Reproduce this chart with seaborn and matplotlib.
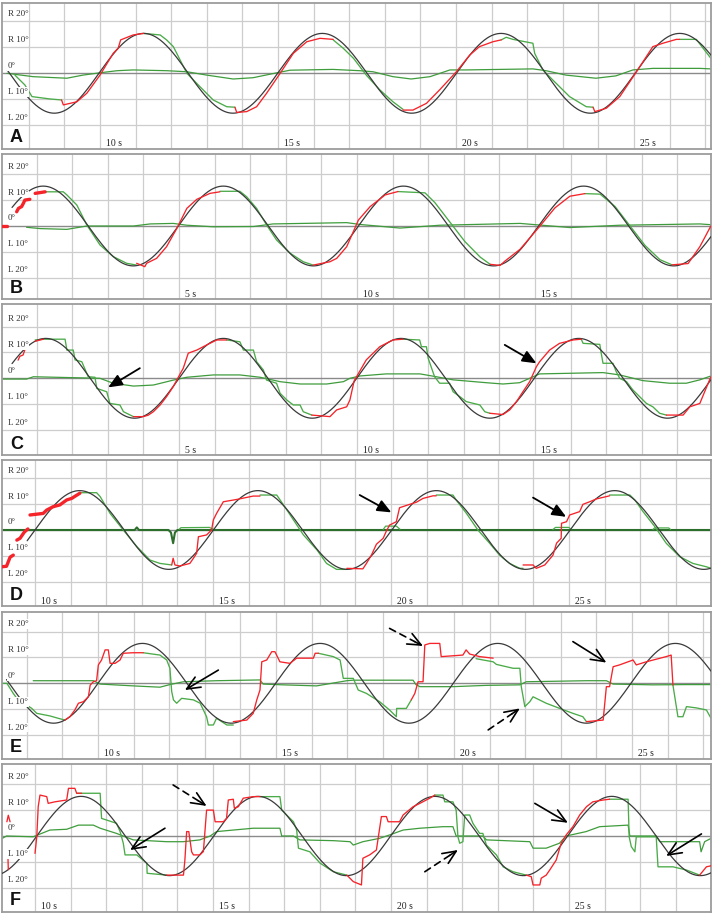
import numpy as np
import matplotlib
matplotlib.use("Agg")
import matplotlib.pyplot as plt
import matplotlib.transforms as mtransforms
import seaborn as sns

# ---- values: time in s, angle in degrees (R positive, L negative) ----
panel_letters = ["A", "B", "C", "D", "E", "F"]
time_labels = [[10, 15, 20, 25], [5, 10, 15], [5, 10, 15],
               [10, 15, 20, 25], [10, 15, 20, 25], [10, 15, 20, 25]]
level_values = [20, 10, 0, -10, -20]
level_labels = ["R 20°", "R 10°", "0°", "L 10°", "L 20°"]

# target sine (black): amplitude, period, rising zero crossing, first sample
target_amp = [15.4, 15.4, 15.4, 15.2, 15.4, 15.3]
target_period = [5.02, 5.06, 4.99, 5.01, 4.99, 4.97]
target_zero = [9.97, 4.98, 5.0, 15.01, 10.0, 10.05]
target_start = [7.4, 0.31, 0.31, 9.78, 7.43, 9.07]

# ---- panel A ----
A_head = [(7.39, 0.0), (8.12, -1.3), (9.07, -1.9), (9.52, -0.7), (10.0, 0.2), (10.48, 1.0),
          (10.93, 1.3), (11.88, 1.0), (12.44, 0.6), (13.0, -0.7), (13.74, -2.2), (14.3, -1.7),
          (14.97, 0.2), (15.34, 1.2), (16.54, 1.5), (17.3, 1.0), (17.67, 0.6), (18.23, -1.3),
          (18.74, -2.2), (19.27, -1.3), (19.83, 1.3), (20.28, 1.3), (22.16, 1.7), (22.53, 1.0),
          (23.09, -0.7), (23.93, -1.9), (24.49, -1.0), (24.97, 1.3), (25.53, 1.9), (26.85, 1.9),
          (27.16, 1.7)]
A_eye = [
    [(7.61, -0.7), (7.89, -4.5), (8.09, -9.0), (8.59, -9.9), (8.92, -10.3)],
    [(11.22, 15.4), (11.31, 15.3), (11.69, 14.8), (11.87, 12.9), (12.06, 10.3), (12.44, 0.0),
     (12.81, -5.2), (13.18, -10.3), (13.56, -12.9), (13.79, -13.1)],
    [(16.55, 12.9), (16.83, 9.7), (17.12, 5.8), (17.48, -0.7), (17.86, -6.4), (18.23, -11.0),
     (18.51, -13.9)],
    [(21.27, 12.9), (21.41, 13.9), (21.6, 13.1), (22.16, 11.6), (22.21, 7.7), (22.44, 1.3),
     (22.72, -2.6), (23.19, -9.0), (23.66, -12.9), (23.85, -13.1)],
    [(26.28, 13.1), (26.75, 13.1), (26.94, 9.7), (27.16, 5.8)],
]
A_red = [
    [(8.92, -10.3), (8.97, -12.2), (9.35, -11.0), (9.63, -7.7), (10.0, -0.7), (10.37, 7.7),
     (10.51, 9.7), (10.58, 12.9), (10.93, 14.8), (11.22, 15.4)],
    [(13.79, -13.1), (13.84, -15.1), (14.12, -14.8), (14.4, -12.9), (14.68, -7.7), (15.06, 0.0),
     (15.43, 7.7), (15.81, 12.2), (16.18, 13.5), (16.55, 13.1)],
    [(18.51, -14.2), (18.79, -14.2), (19.17, -11.6), (19.54, -6.4), (20.01, 0.6), (20.39, 7.1),
     (20.66, 10.3), (21.04, 12.2), (21.27, 12.9)],
    [(23.85, -13.1), (23.9, -14.8), (24.22, -13.5), (24.6, -9.0), (25.07, 0.6), (25.53, 10.3),
     (25.81, 11.6), (26.19, 13.1), (26.28, 13.1)],
]
A_thick = []
A_arrows = []

# ---- panel B ----
B_head = [(0.72, -0.5), (1.1, -1.0), (1.85, -1.3), (2.41, 0.0), (3.72, 0.0), (4.19, 0.8),
          (4.84, 1.0), (5.22, 0.3), (5.96, -0.3), (7.09, -0.2), (7.64, 0.8), (9.71, 1.3),
          (10.08, 0.6), (11.21, -0.8), (12.33, 0.3), (14.58, 1.0), (15.98, -0.6), (17.39, 0.3),
          (19.63, 0.8), (19.94, 0.5)]
B_eye = [
    [(1.19, 13.2), (1.75, 13.2), (1.85, 12.0), (2.13, 8.1), (2.41, 0.4), (2.78, -7.3),
     (3.15, -11.8), (3.53, -14.4), (3.81, -15.1)],
    [(6.15, 13.4), (6.71, 13.4), (6.9, 11.3), (7.18, 6.8), (7.46, 0.4), (7.74, -5.4),
     (8.12, -10.5), (8.49, -13.8), (8.77, -15.1)],
    [(11.15, 13.3), (11.91, 12.8), (12.19, 9.0), (12.61, 1.5), (13.03, -6.0), (13.46, -12.0),
     (13.74, -14.8)],
    [(16.4, 12.5), (16.83, 12.3), (17.25, 7.5), (17.67, 0.0), (18.09, -7.5), (18.51, -13.0),
     (18.85, -15.0)],
]
B_red = [
    [(3.81, -14.4), (4.04, -15.7), (4.09, -14.4), (4.37, -12.5), (4.65, -8.0), (4.94, -0.9),
     (5.22, 6.8), (5.5, 10.3), (5.87, 12.6), (6.15, 13.2)],
    [(8.77, -15.1), (9.24, -13.8), (9.43, -12.5), (9.71, -8.0), (10.04, 2.3), (10.37, 7.5),
     (10.79, 12.0), (11.15, 13.3)],
    [(13.74, -14.8), (14.02, -15.2), (14.16, -13.5), (14.58, -9.0), (15.14, 0.0), (15.56, 7.0),
     (15.98, 11.5), (16.4, 12.5)],
    [(18.85, -15.0), (19.3, -14.5), (19.63, -8.0), (19.94, 0.0)],
]
B_thick = [
    [(0.03, 0.0), (0.17, 0.0)],
    [(0.44, 5.5), (0.49, 6.8), (0.58, 7.5), (0.63, 8.8), (0.67, 10.0), (0.81, 10.3)],
    [(0.96, 12.6), (1.24, 13.2)],
]
B_arrows = []

# ---- panel C ----
C_head = [(0.05, -0.3), (0.72, -0.3), (0.91, 0.6), (1.85, 0.3), (2.78, 0.0), (3.15, -1.9),
          (3.72, -3.0), (4.28, -2.6), (4.84, -0.7), (5.22, 0.4), (5.96, 1.3), (6.71, 1.3),
          (7.28, 0.4), (7.84, -1.3), (8.4, -2.2), (9.15, -2.2), (9.62, -1.3), (9.8, 0.0),
          (10.08, 0.9), (10.82, 1.7), (11.77, 1.7), (12.23, 0.6), (12.7, -0.6), (13.63, -1.7),
          (14.1, -2.2), (14.57, -1.7), (14.85, 0.0), (15.13, 1.7), (16.91, 2.2), (17.38, 1.3),
          (18.03, -0.9), (18.78, -1.9), (19.25, -1.9), (19.63, -0.6), (19.94, 0.9)]
C_eye = [
    [(0.96, 14.8), (1.19, 15.1), (1.8, 15.1), (1.85, 10.9), (2.03, 10.9), (2.08, 7.1),
     (2.27, 6.4), (2.45, 0.6), (2.64, 0.4), (2.69, -3.9), (2.97, -5.2), (3.06, -9.7),
     (3.34, -10.3), (3.44, -12.9), (3.72, -14.8)],
    [(6.34, 14.8), (6.71, 14.1), (6.81, 10.9), (7.09, 10.9), (7.18, 6.4), (7.37, 3.2),
     (7.46, -0.7), (7.74, -1.9), (7.84, -5.8), (8.03, -8.4), (8.21, -10.3), (8.4, -10.3),
     (8.49, -12.9), (8.73, -14.2)],
    [(11.29, 15.1), (11.76, 14.8), (11.81, 12.2), (11.95, 12.2), (12.0, 7.7), (12.18, 0.6),
     (12.32, -1.9), (12.6, -1.9), (12.7, -5.2), (12.89, -7.1), (13.07, -9.0), (13.45, -10.3),
     (13.59, -12.9), (13.73, -13.5)],
    [(16.3, 15.1), (16.35, 13.5), (16.82, 13.1), (16.86, 9.7), (16.91, 5.8), (17.19, 5.8),
     (17.28, 2.6), (17.38, 0.0), (17.57, -1.3), (17.75, -4.5), (17.94, -7.1), (18.13, -9.7),
     (18.31, -11.0), (18.5, -13.5), (18.69, -14.2)],
]
C_red = [
    [(0.48, 7.0), (0.53, 8.5), (0.62, 9.0), (0.67, 11.0)],
    [(0.96, 14.3), (1.19, 15.1)],
    [(3.72, -14.8), (4.0, -14.8), (4.14, -14.2), (4.28, -12.9), (4.47, -10.3), (4.65, -7.1),
     (4.84, -3.2), (4.98, 0.4), (5.12, 3.9), (5.26, 9.7), (5.5, 10.9), (5.78, 12.9),
     (6.06, 14.8), (6.34, 14.8)],
    [(8.73, -14.2), (9.24, -14.8), (9.43, -12.2), (9.71, -11.0), (9.8, -8.4), (9.92, -1.0),
     (10.26, 7.1), (10.64, 12.2), (11.01, 14.8), (11.29, 15.1)],
    [(13.73, -13.5), (14.1, -14.0), (14.29, -12.2), (14.48, -9.0), (14.66, -5.2), (14.85, -1.3),
     (15.04, 4.5), (15.13, 6.4), (15.41, 10.9), (15.69, 13.5), (16.07, 14.8), (16.3, 15.1)],
    [(18.69, -14.2), (19.16, -14.2), (19.35, -11.0), (19.63, -9.7), (19.94, 0.6)],
]
C_thick = []
C_arrows = [((3.9, 3.9), (3.01, -3.5), "filled"), ((14.15, 12.9), (15.04, 5.8), "filled")]

# ---- panel D ----
D_head = [(9.07, 0.0), (12.8, 0.0), (12.86, 1.0), (12.92, 0.0), (13.75, 0.0), (13.82, -1.0),
          (13.88, -5.1), (13.93, -1.0), (14.0, 0.0), (28.99, 0.0)]
D_eye_zero = [
    [(14.05, 0.3), (14.1, 0.9), (14.9, 1.0), (15.0, 0.3)],
    [(19.78, 0.2), (19.85, 1.5), (20.15, 1.5), (20.25, 0.3)],
    [(24.55, 0.2), (24.62, 1.0), (25.0, 1.0), (25.05, 0.2)],
    [(27.36, 0.2), (27.4, 0.8), (27.8, 0.8), (27.85, 0.2)],
]
D_eye = [
    [(11.26, 14.4), (11.73, 14.4), (11.83, 12.9), (12.11, 6.4), (12.48, 0.0), (12.86, -6.4),
     (13.23, -11.6), (13.51, -12.9), (13.84, -13.5)],
    [(16.32, 13.5), (16.79, 13.5), (16.98, 9.7), (17.26, 3.9), (17.54, -1.9), (17.92, -7.7),
     (18.19, -12.9), (18.47, -15.2), (18.76, -15.2)],
    [(21.27, 13.5), (21.74, 13.5), (21.83, 11.6), (22.12, 6.4), (22.44, 0.0), (22.77, -5.1),
     (23.05, -9.7), (23.33, -12.9), (23.62, -14.8), (23.71, -14.8)],
    [(26.14, 13.5), (26.71, 13.5), (26.85, 11.6), (27.08, 7.1), (27.41, 1.3), (27.73, -5.1),
     (28.11, -10.3), (28.48, -12.9), (28.86, -14.2), (28.99, -14.8)],
]
D_red = [
    [(13.84, -13.5), (13.88, -10.9), (13.93, -13.5), (14.07, -13.9), (14.35, -12.9),
     (14.45, -10.9), (14.54, -9.0), (14.59, -2.6), (14.82, -1.9), (14.96, 0.0), (15.01, 3.9),
     (15.1, 6.4), (15.29, 10.9), (15.67, 11.8), (16.13, 13.1), (16.32, 13.1)],
    [(18.76, -14.8), (19.21, -15.0), (19.31, -12.9), (19.45, -9.7), (19.59, -5.5), (19.78, -3.2),
     (19.87, -0.4), (19.96, 1.9), (20.15, 3.2), (20.24, 8.6), (20.48, 9.7), (20.71, 10.7),
     (20.9, 12.2), (21.18, 13.2), (21.27, 13.2)],
    [(23.71, -13.5), (23.99, -13.5), (24.08, -14.8), (24.32, -13.5), (24.55, -9.7), (24.65, -5.1),
     (24.78, -3.2), (24.79, 2.6), (24.93, 3.2), (25.02, 5.8), (25.3, 7.1), (25.39, 9.9),
     (25.58, 10.9), (25.77, 12.0), (26.05, 12.9), (26.14, 13.2)],
]
D_thick = [
    [(9.07, -14.2), (9.2, -14.0), (9.3, -10.5), (9.39, -9.7)],
    [(9.49, -3.9), (9.58, -3.2), (9.7, -0.8), (9.8, 0.4)],
    [(9.86, 5.8), (10.23, 6.4), (10.33, 7.7), (10.51, 9.0), (10.7, 9.7), (10.89, 11.6),
     (11.03, 12.2), (11.26, 14.2)],
]
D_arrows = [((19.12, 13.5), (20.01, 6.8), "filled"), ((23.99, 12.5), (24.92, 5.1), "filled")]

# ---- panel E ----
E_head = [(8.18, 1.0), (9.87, 1.0), (10.06, -0.3), (10.99, -1.0), (11.74, -1.5), (12.02, -0.5),
          (12.4, 0.6), (13.33, 1.0), (14.55, 1.3), (14.64, -0.3), (15.2, -0.6), (16.14, -1.0),
          (16.99, 1.0), (17.16, 1.2), (18.85, 1.2), (18.93, -0.5), (19.04, -1.3), (19.97, -1.3),
          (20.91, -0.8), (21.85, -0.6), (22.03, 0.6), (23.72, 1.0), (24.28, 1.0), (24.47, -0.3),
          (25.59, -0.6), (26.53, -0.5), (27.22, -0.5)]
E_eye = [
    [(7.3, 0.0), (7.44, 0.0), (7.62, -3.9), (7.72, -5.8), (8.14, -9.7), (8.28, -11.6),
     (8.65, -12.6), (8.88, -13.5), (9.07, -14.2)],
    [(11.27, 11.8), (11.74, 10.9), (11.93, 9.0), (12.02, 5.8), (12.07, -3.2), (12.12, -6.4),
     (12.21, -7.7), (12.35, -5.8), (12.68, -6.4), (12.87, -7.7), (13.05, -12.9), (13.1, -16.1),
     (13.24, -16.1), (13.33, -13.5), (13.62, -16.1), (13.8, -16.1)],
    [(16.19, 11.6), (16.61, 10.3), (16.8, 9.0), (16.89, 1.9), (17.17, 1.9), (17.31, -2.6),
     (17.54, -3.9), (17.91, -7.1), (18.19, -10.3), (18.38, -12.9), (18.39, -9.7), (18.66, -9.7),
     (18.8, -6.4)],
    [(20.62, 9.5), (21.1, 8.3), (21.19, 7.3), (21.66, 5.8), (21.85, 5.8), (21.89, -1.3),
     (21.99, -9.0), (22.13, -7.1), (22.22, -5.2), (22.59, -7.7), (22.97, -9.7), (23.34, -11.6),
     (23.62, -12.9), (23.72, -14.8)],
    [(26.15, -0.7), (26.29, -12.9), (26.43, -12.9), (26.53, -9.0), (26.81, -9.5), (27.09, -10.3),
     (27.22, -13.5)],
]
E_red = [
    [(9.07, -14.2), (9.21, -12.9), (9.35, -10.3), (9.45, -7.7), (9.59, -7.1), (9.73, -5.2),
     (9.78, -0.7), (9.87, 0.6), (9.96, 1.0), (10.01, 7.1), (10.1, 9.0), (10.2, 12.9),
     (10.29, 12.9), (10.34, 7.7), (10.48, 7.7), (10.62, 9.0), (10.71, 11.6), (10.99, 11.8),
     (11.27, 11.8)],
    [(13.8, -14.8), (14.18, -14.2), (14.36, -11.6), (14.46, -6.4), (14.55, -2.6), (14.6, 8.3),
     (14.74, 9.0), (14.88, 12.2), (14.97, 12.2), (15.11, 8.3), (15.39, 7.7), (15.58, 9.7),
     (16.05, 9.7), (16.1, 11.6), (16.19, 11.6)],
    [(18.8, -6.4), (18.9, -3.9), (18.99, 0.6), (19.13, 0.6), (19.18, 14.8), (19.32, 15.4),
     (19.6, 15.4), (19.64, 10.3), (20.25, 10.9), (20.34, 12.9), (20.44, 11.3), (20.72, 10.3),
     (21.1, 9.7)],
    [(23.72, -14.8), (24.19, -14.2), (24.28, -1.3), (24.37, -1.3), (24.47, 6.4), (24.65, 7.1),
     (25.03, 9.0), (25.12, 7.1), (25.4, 8.3), (25.96, 10.3), (26.1, 10.9), (26.15, -0.7)],
]
E_thick = []
E_arrows = [((13.38, 5.1), (12.44, -2.6), "open"), ((18.19, 21.2), (19.13, 14.4), "dashed"),
            ((20.96, -18.0), (21.85, -9.7), "dashed"), ((23.34, 16.1), (24.28, 8.0), "open")]

# ---- panel F ----
F_head = [(9.07, -1.0), (9.2, 0.0), (9.95, -0.3), (10.42, 2.3), (10.89, 2.6), (11.22, 4.2),
          (11.64, 4.2), (11.83, 3.0), (12.29, 1.0), (12.76, -1.5), (13.7, -2.2), (14.17, -2.2),
          (14.63, -1.5), (14.92, 0.0), (15.1, 1.7), (15.57, 2.3), (16.13, 3.0), (16.88, 3.0),
          (16.93, 0.0), (17.26, 0.0), (17.44, -1.5), (18.38, -1.8), (18.85, -2.2), (18.94, -3.5),
          (19.21, -2.2), (19.68, -0.9), (19.96, 0.4), (20.34, 2.3), (20.81, 3.0), (21.46, 3.6),
          (21.74, 3.6), (21.83, 0.0), (22.58, 0.0), (22.68, -1.5), (23.9, -2.2), (23.99, -4.7),
          (24.36, -4.7), (24.73, -2.8), (24.92, 0.0), (25.48, 1.7), (25.86, 3.6), (26.66, 4.2),
          (26.71, 0.0), (27.45, 0.0), (27.55, -2.2), (28.67, -2.2), (28.71, -6.1), (28.81, -2.2),
          (28.99, -0.9)]
F_eye = [
    [(11.17, 16.5), (11.83, 16.5), (11.87, 6.8), (12.29, 4.9), (12.39, 1.7), (12.48, -2.8),
     (12.53, -7.3), (12.86, -7.3), (13.14, -10.5), (13.15, -14.4), (13.7, -15.1)],
    [(16.32, 15.2), (16.88, 15.2), (16.93, 10.0), (17.26, 5.5), (17.35, 2.3), (17.4, -4.7),
     (17.72, -6.1), (18.01, -10.5), (18.38, -13.8), (18.76, -15.1)],
    [(21.23, 15.8), (21.46, 15.8), (21.51, 13.2), (21.74, 13.2), (21.83, 10.0), (21.88, -0.3),
     (21.93, -2.8), (22.02, -2.2), (22.07, 8.1), (22.21, 8.1), (22.3, 4.9), (22.49, 1.0),
     (22.58, 1.0), (22.68, -3.5), (22.96, -7.3), (23.15, -11.9), (23.43, -13.8), (23.8, -15.1)],
    [(26.14, 14.2), (26.66, 14.2), (26.69, -0.3), (26.75, -4.1), (26.85, -6.1), (26.89, -0.3),
     (27.45, -0.3), (27.5, -11.9), (27.92, -11.9), (28.29, -13.1), (28.67, -15.1)],
]
F_red = [
    [(9.24, -8.0), (9.25, -13.0)],
    [(9.21, 5.5), (9.25, 8.0), (9.3, 5.5)],
    [(10.0, -6.7), (10.05, -0.3), (10.09, 11.3), (10.14, 15.8), (10.33, 15.2), (10.37, 12.6),
     (10.56, 13.2), (10.89, 13.9), (10.94, 18.4), (11.12, 18.4), (11.17, 16.5), (11.31, 16.5)],
    [(13.7, -15.1), (14.17, -15.1), (14.21, -9.3), (14.26, 1.7), (14.32, 1.7), (14.4, -6.1),
     (14.45, -7.3), (14.63, -7.3), (14.73, -6.0), (14.82, 10.0), (15.01, 10.0), (15.06, 5.5),
     (15.29, 5.5), (15.38, 6.8), (15.43, 13.9), (15.57, 14.2), (15.6, 10.7), (15.71, 11.3),
     (15.85, 14.6), (16.13, 15.2), (16.32, 15.2)],
    [(18.76, -15.1), (18.94, -17.6), (19.17, -18.9), (19.21, -8.6), (19.4, -7.3), (19.59, -5.4),
     (19.73, 7.5), (19.87, 7.5), (19.92, 5.5), (20.24, 5.5), (20.34, 8.1), (20.62, 11.3),
     (20.81, 12.6), (21.09, 14.6), (21.23, 15.8)],
    [(23.8, -15.1), (23.94, -15.7), (23.99, -18.9), (24.18, -18.9), (24.22, -16.3),
     (24.36, -15.1), (24.46, -13.1), (24.64, -9.3), (24.78, -2.8), (24.92, 0.4), (25.11, 3.6),
     (25.3, 8.1), (25.49, 11.3), (25.67, 13.2), (25.96, 13.9), (26.14, 14.2)],
    [(28.67, -15.1), (28.86, -11.9), (28.99, -11.5)],
]
F_thick = []
F_arrows = [((13.65, 3.0), (12.67, -5.4), "open"), ((13.88, 19.7), (14.82, 11.6), "dashed"),
            ((20.95, -13.8), (21.88, -5.4), "dashed"), ((24.04, 12.6), (24.97, 5.1), "open"),
            ((28.72, 0.8), (27.73, -7.7), "open")]

# ---- layout (pixels of the 713 x 914 picture) ----
W, H = 713, 914
px_per_s = 35.6
px_per_deg = 2.59
panel_box = [(2.7, 73.3, 149.0), (154.0, 226.0, 299.5), (304.0, 378.3, 455.0),
             (460.0, 530.0, 606.0), (611.7, 683.3, 759.0), (764.0, 836.0, 911.7)]
# time t_ref sits at pixel x_ref
panel_xref = [(10, 100), (5, 179), (5, 179), (10, 35), (10, 98), (10, 35)]

heads = [A_head, B_head, C_head, D_head, E_head, F_head]
eyes = [A_eye, B_eye, C_eye, D_eye, E_eye, F_eye]
reds = [A_red, B_red, C_red, D_red, E_red, F_red]
thicks = [A_thick, B_thick, C_thick, D_thick, E_thick, F_thick]
arrows = [A_arrows, B_arrows, C_arrows, D_arrows, E_arrows, F_arrows]

sns.set_theme(style="white")
plt.rcParams["font.family"] = ["Liberation Serif", "DejaVu Serif"]

RED = "#f5232a"
GREEN = "#4aab48"
HEAD_GREEN = "#3f9c3c"
BLACK = "#3a3a3a"
GRID = "#cdcdcd"

fig = plt.figure(figsize=(W / 100, H / 100), dpi=100)


def draw(ax, pts, color, lw, z):
    t = [p[0] for p in pts]
    d = [p[1] for p in pts]
    sns.lineplot(x=t, y=d, ax=ax, color=color, lw=lw, sort=False, estimator=None,
                 legend=False, zorder=z)


for i in range(6):
    top, zero, bot = panel_box[i]
    t_ref, x_ref = panel_xref[i]
    ax = fig.add_axes([2 / W, 1 - bot / H, 709 / W, (bot - top) / H])
    x0 = t_ref + (2 - x_ref) / px_per_s
    x1 = t_ref + (711 - x_ref) / px_per_s
    ax.set_xlim(x0, x1)
    ax.set_ylim(-(bot - zero) / px_per_deg, (zero - top) / px_per_deg)
    ax.set_xticks([])
    ax.set_yticks([])
    for s in ax.spines.values():
        s.set_color("#9c9c9c")
        s.set_linewidth(1.3)

    for t in range(int(np.ceil(x0)), int(np.floor(x1)) + 1):
        ax.axvline(t, color=GRID, lw=0.9, zorder=1)
    for lv in level_values:
        if lv == 0:
            ax.axhline(0, color="#8a8a8a", lw=1.0, zorder=1)
        else:
            ax.axhline(lv, color=GRID, lw=0.9, zorder=1)

    # target sine
    ts = np.linspace(target_start[i], x1, 700)
    ys = target_amp[i] * np.sin(2 * np.pi * (ts - target_zero[i]) / target_period[i])
    sns.lineplot(x=ts, y=ys, ax=ax, color=BLACK, lw=0.9, sort=False, estimator=None,
                 legend=False, zorder=3)

    if i == 3:
        draw(ax, heads[i], "#2c6e2c", 1.5, 2)
        for seg in D_eye_zero:
            draw(ax, seg, GREEN, 0.9, 2)
    else:
        draw(ax, heads[i], HEAD_GREEN, 0.9, 2)
    for seg in eyes[i]:
        draw(ax, seg, GREEN, 0.95, 2.5)
    for seg in reds[i]:
        draw(ax, seg, RED, 0.95, 4)
    for seg in thicks[i]:
        draw(ax, seg, RED, 2.4, 4)

    for tail, tip, kind in arrows[i]:
        if kind == "filled":
            ax.annotate("", xy=tip, xytext=tail, zorder=7,
                        arrowprops=dict(arrowstyle="-|>,head_length=0.7,head_width=0.3",
                                        color="black", lw=1.3, shrinkA=0, shrinkB=0))
        elif kind == "open":
            ax.annotate("", xy=tip, xytext=tail, zorder=7,
                        arrowprops=dict(arrowstyle="->,head_length=0.8,head_width=0.35",
                                        color="black", lw=1.2, shrinkA=0, shrinkB=0))
        else:
            mid = (tail[0] + 0.75 * (tip[0] - tail[0]), tail[1] + 0.75 * (tip[1] - tail[1]))
            ax.annotate("", xy=mid, xytext=tail, zorder=7,
                        arrowprops=dict(arrowstyle="-", color="black", lw=1.2,
                                        linestyle=(0, (4, 3)), shrinkA=0, shrinkB=0))
            ax.annotate("", xy=tip, xytext=mid, zorder=7,
                        arrowprops=dict(arrowstyle="->,head_length=0.8,head_width=0.35",
                                        color="black", lw=1.2, shrinkA=0, shrinkB=0))

    trans_y = mtransforms.blended_transform_factory(ax.transAxes, ax.transData)
    for lv, lab in zip(level_values, level_labels):
        ax.text(0.008, lv + 2.9, lab, transform=trans_y, fontsize=6.5, color="#333333",
                ha="left", va="center", zorder=6,
                bbox=dict(boxstyle="square,pad=0.1", fc="white", ec="none"))

    trans_x = mtransforms.blended_transform_factory(ax.transData, ax.transAxes)
    for tl in time_labels[i]:
        ax.text(tl + 0.17, 5 / (bot - top), f"{tl} s", transform=trans_x, fontsize=7,
                color="#222222", ha="left", va="center", zorder=6)

    ax.text(8 / 709, 11 / (bot - top), panel_letters[i], transform=ax.transAxes,
            fontsize=13, fontweight="bold", family=["Liberation Sans", "DejaVu Sans"],
            color="#111111", ha="left", va="center", zorder=6)

fig.savefig("out.png", dpi=100)
